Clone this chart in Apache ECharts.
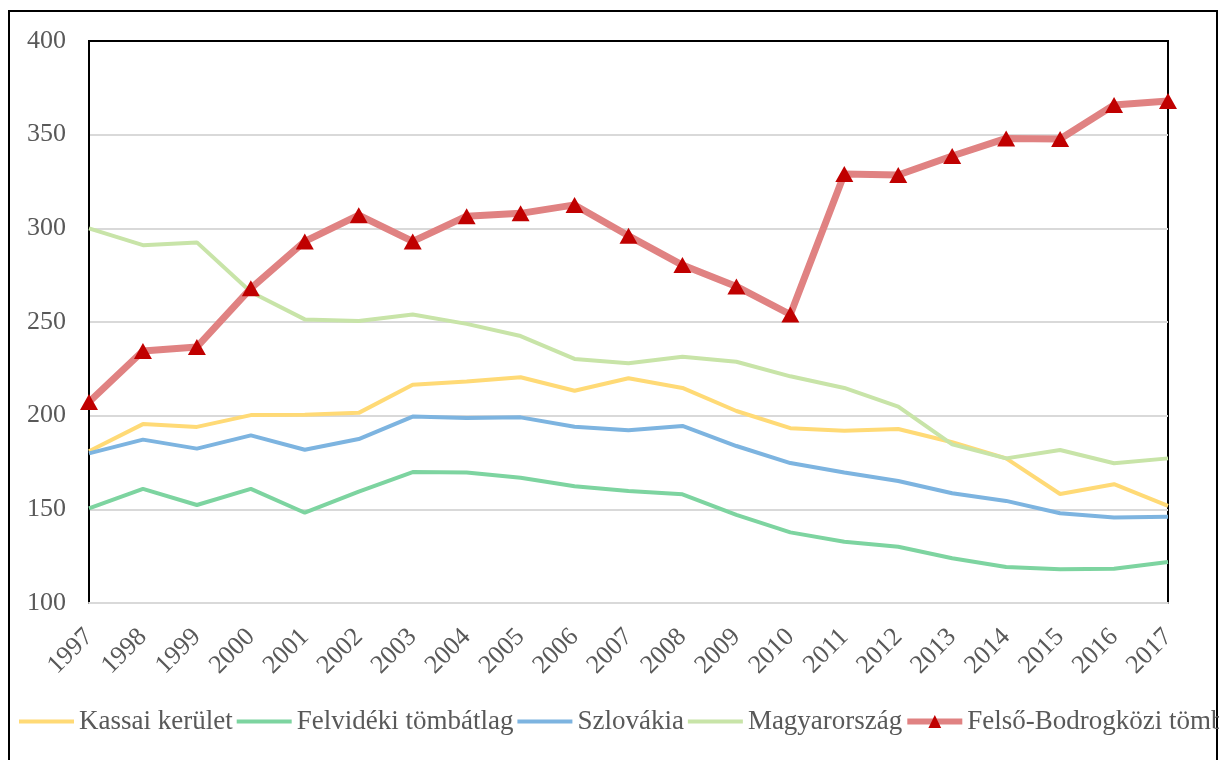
<!DOCTYPE html>
<html>
<head>
<meta charset="utf-8">
<style>
  html, body { margin: 0; padding: 0; background: #fff; }
  #chart { width: 1219px; height: 760px; }
</style>
<script src="https://cdn.jsdelivr.net/npm/echarts@6/dist/echarts.min.js"></script>
</head>
<body>
<div id="chart"></div>
<script>
// years on the x axis
const years = ['1997', '1998', '1999', '2000', '2001', '2002', '2003', '2004', '2005', '2006', '2007',
  '2008', '2009', '2010', '2011', '2012', '2013', '2014', '2015', '2016', '2017'];

// series values
const kassai = [181, 195.5, 194, 200.3, 200.5, 201.5, 216.5, 218.3, 220.5, 213.3, 220,
  214.8, 202.5, 193.3, 192, 192.9, 185.8, 177.2, 158.2, 163.4, 151.9];
const felvideki = [150.5, 160.9, 152.3, 160.9, 148.2, 159.4, 169.9, 169.7, 166.9, 162.3, 159.8,
  158, 147, 137.7, 132.7, 130, 123.9, 119.2, 118, 118.3, 121.9];
const szlovakia = [179.9, 187.2, 182.4, 189.5, 181.8, 187.5, 199.5, 198.8, 199.1, 194.1, 192.2,
  194.5, 183.8, 174.7, 169.7, 165.1, 158.6, 154.5, 147.9, 145.6, 146.1];
const magyarorszag = [300, 291, 292.5, 266, 251.4, 250.5, 254, 249, 242.5, 230.3, 228,
  231.5, 228.8, 221, 214.8, 204.8, 184.7, 177.2, 181.7, 174.6, 177.2];
const bodrogkoz = [207.3, 234.5, 236.7, 268, 293, 307, 293, 306.5, 308, 312.5, 296,
  280.4, 269, 254, 329, 328.5, 338.6, 348, 347.7, 365.8, 368];

const seriesNames = ['Kassai kerület', 'Felvidéki tömbátlag', 'Szlovákia', 'Magyarország', 'Felső-Bodrogközi tömb'];

const font = 'Liberation Serif, Times New Roman, serif';
const textGrey = '#595959';

const chart = echarts.init(document.getElementById('chart'));

// plain line series, no markers
function plainLine(name, data, color) {
  return {
    name: name,
    type: 'line',
    data: data,
    symbol: 'none',
    lineStyle: { color: color, width: 4 },
    itemStyle: { color: color }
  };
}

// legend entries: plain lines hide the symbol, the last keeps its triangle
const legendData = seriesNames.map((name, i) => {
  if (i < 4) {
    return { name: name, itemStyle: { opacity: 0 }, lineStyle: { width: 4 } };
  }
  return { name: name, lineStyle: { width: 6 } };
});

const option = {
  backgroundColor: '#fff',
  animation: false,
  grid: {
    left: 89,
    right: 51,
    top: 41,
    bottom: 157,
    show: true,
    borderColor: '#000',
    borderWidth: 2
  },
  graphic: [
    {
      // outer frame of the chart
      type: 'rect',
      shape: { x: 9, y: 11, width: 1208, height: 760 },
      style: { fill: null, stroke: '#000', lineWidth: 2 },
      silent: true
    }
  ],
  legend: {
    left: 17,
    top: 708,
    width: 1500,
    padding: 0,
    itemWidth: 55,
    itemHeight: 16,
    itemGap: 2,
    lineStyle: { width: 4 },
    textStyle: { fontFamily: font, fontSize: 27, color: textGrey },
    data: legendData
  },
  xAxis: [
    {
      type: 'category',
      data: years,
      boundaryGap: false,
      axisLine: { lineStyle: { color: '#d9d9d9', width: 2 } },
      axisTick: { show: false },
      axisLabel: {
        rotate: 45,
        margin: 30,
        fontFamily: font,
        fontSize: 26,
        color: textGrey,
        interval: 0
      }
    },
    {
      // black top edge of the plot frame
      type: 'category',
      data: years,
      position: 'top',
      boundaryGap: false,
      axisLine: { lineStyle: { color: '#000', width: 2 } },
      axisTick: { show: false },
      axisLabel: { show: false },
      splitLine: { show: false }
    }
  ],
  yAxis: {
    type: 'value',
    min: 100,
    max: 400,
    interval: 50,
    axisLine: { show: true, lineStyle: { color: '#000', width: 2 } },
    axisTick: { show: false },
    splitLine: { lineStyle: { color: '#d9d9d9', width: 2 } },
    axisLabel: {
      margin: 23,
      fontFamily: font,
      fontSize: 26,
      color: textGrey
    }
  },
  series: [
    plainLine(seriesNames[0], kassai, '#ffda76'),
    plainLine(seriesNames[1], felvideki, '#7dd4a0'),
    plainLine(seriesNames[2], szlovakia, '#7db4e0'),
    plainLine(seriesNames[3], magyarorszag, '#c8e4a8'),
    {
      name: seriesNames[4],
      type: 'line',
      data: bodrogkoz,
      symbol: 'triangle',
      symbolSize: [18, 16],
      lineStyle: { color: '#e08282', width: 7 },
      itemStyle: { color: '#c00000' },
      z: 5
    }
  ]
};

chart.setOption(option);
</script>
</body>
</html>
